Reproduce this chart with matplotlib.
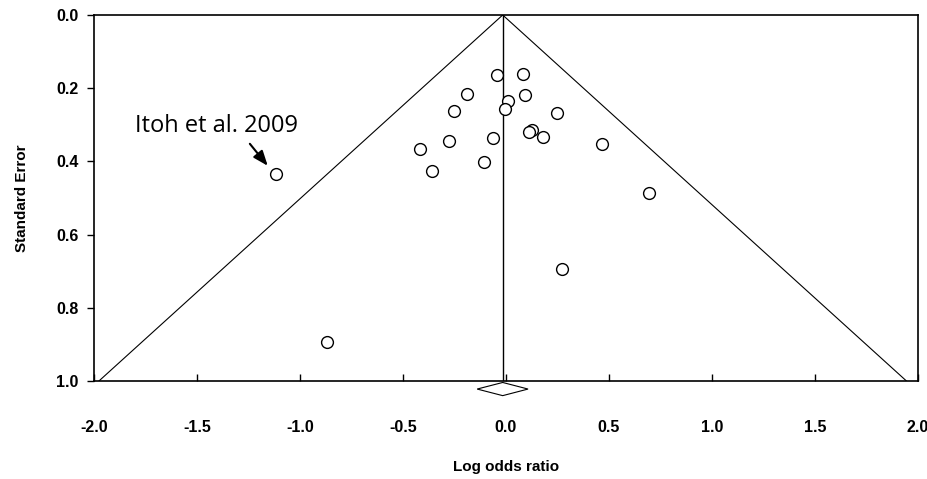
import numpy as np
import matplotlib
matplotlib.use("Agg")
import matplotlib.pyplot as plt
from matplotlib.patches import Polygon

# study estimates
log_or = [-0.044, 0.083, -0.189, 0.091, 0.008, -0.006, -0.251, 0.128, 0.110,
          0.180, -0.063, -0.278, -0.417, -0.107, -0.359, 0.246, 0.465, 0.696,
          0.270, -1.118, -0.870]
se = [0.163, 0.160, 0.215, 0.219, 0.235, 0.258, 0.263, 0.313, 0.320,
      0.334, 0.335, 0.344, 0.365, 0.402, 0.425, 0.267, 0.352, 0.487,
      0.694, 0.434, 0.894]

pooled = -0.016
ci_low, ci_high = -0.14, 0.107
se_max = 1.0

x_ticks = [-2.0, -1.5, -1.0, -0.5, 0.0, 0.5, 1.0, 1.5, 2.0]
y_ticks = [0.0, 0.2, 0.4, 0.6, 0.8, 1.0]

plt.rcParams['font.family'] = ['Liberation Sans', 'DejaVu Sans']

fig = plt.figure(figsize=[9.28, 4.79], dpi=100)
ax = fig.add_axes([94/928, 1 - 381/479, 824/928, 366/479])

# funnel and pooled line
ax.plot([pooled - 1.96*se_max, pooled, pooled + 1.96*se_max], [se_max, 0, se_max],
        color='black', linewidth=0.8)
ax.plot([pooled, pooled], [0, se_max], color='black', linewidth=1.0)

ax.plot(log_or, se, 'o', markersize=8.5, markerfacecolor='white',
        markeredgecolor='black', markeredgewidth=1.0, linestyle='none')

# summary diamond below the axis
dy = 0.018
diamond = Polygon([[ci_low, 1.022], [pooled, 1.022 - dy], [ci_high, 1.022], [pooled, 1.022 + dy]],
                  closed=True, facecolor='white', edgecolor='black', linewidth=0.8, clip_on=False)
ax.add_patch(diamond)

ax.text(-1.80, 0.319, 'Itoh et al. 2009', fontsize=17, family=['Open Sans', 'DejaVu Sans'],
        ha='left', va='baseline')
ax.annotate('', xy=(-1.148, 0.418), xytext=(-1.252, 0.346),
            arrowprops=dict(arrowstyle='-|>,head_width=0.35,head_length=0.9', color='black', lw=1.5))

ax.set_xlim(-2.0, 2.0)
ax.set_ylim(1.0, 0.0)
ax.set_xticks(x_ticks)
ax.set_yticks(y_ticks)
ax.set_xticklabels(['%.1f' % v for v in x_ticks], fontweight='bold', fontsize=11.5)
ax.set_yticklabels(['%.1f' % v for v in y_ticks], fontweight='bold', fontsize=11.5)
ax.tick_params(axis='x', direction='in', length=5, width=1, pad=28)
ax.tick_params(axis='y', direction='out', length=5, width=1, pad=6)
for s in ax.spines.values():
    s.set_linewidth(1.2)

ax.set_xlabel('Log odds ratio', fontweight='bold', fontsize=11, labelpad=18)
ax.set_ylabel('Standard Error', fontweight='bold', fontsize=11, labelpad=20)

fig.savefig('out.png', dpi=100)
